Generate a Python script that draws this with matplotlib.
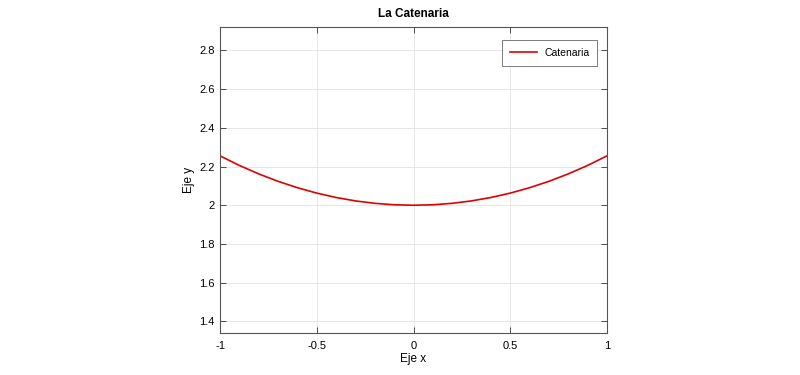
import numpy as np
import matplotlib
matplotlib.use("Agg")
import matplotlib.pyplot as plt

plt.rcParams['font.family'] = ['Liberation Sans', 'DejaVu Sans']

# puntos
x_vals = [-1.0, -0.9, -0.8, -0.7, -0.6, -0.5, -0.4, -0.3, -0.2, -0.1, 0.0,
          0.1, 0.2, 0.3, 0.4, 0.5, 0.6, 0.7, 0.8, 0.9, 1.0]
y_vals = [2.2553, 2.2058, 2.1621, 2.1237, 2.0907, 2.0628, 2.0401, 2.0225, 2.0100, 2.0025, 2.0,
          2.0025, 2.0100, 2.0225, 2.0401, 2.0628, 2.0907, 2.1237, 2.1621, 2.2058, 2.2553]
x_ticks = [-1, -0.5, 0, 0.5, 1]
x_labels = ['-1', '-0.5', '0', '0.5', '1']
y_ticks = [1.4, 1.6, 1.8, 2.0, 2.2, 2.4, 2.6, 2.8]
y_labels = ['1.4', '1.6', '1.8', '2', '2.2', '2.4', '2.6', '2.8']

fig = plt.figure(figsize=(8, 3.75), dpi=100)
ax = fig.add_axes([220/800, 1 - 333/375, 387/800, 306/375])

ax.plot(x_vals, y_vals, color='#e00000', lw=1.2, label='Catenaria')

ax.set_xlim(-1, 1)
ax.set_ylim(1.34, 2.921)
ax.set_xticks(x_ticks)
ax.set_xticklabels(x_labels)
ax.set_yticks(y_ticks)
ax.set_yticklabels(y_labels)
ax.tick_params(direction='in', top=True, right=True, labelsize=8, length=4,
               color='#333333', width=0.6)
ax.tick_params(axis='x', pad=6)
ax.tick_params(axis='y', pad=4)
ax.grid(True, color='#e3e3e3', lw=0.6)
for s in ax.spines.values():
    s.set_color('#555555')
    s.set_linewidth(0.8)

ax.set_title('La Catenaria', fontsize=8.5, fontweight='bold', pad=7)
ax.set_xlabel('Eje x', fontsize=8.5, labelpad=1)
ax.set_ylabel('Eje y', fontsize=8.5, labelpad=3)

leg = ax.legend(loc='upper right', fontsize=7.5, fancybox=False, framealpha=1,
                edgecolor='#666666', borderpad=0.75, handlelength=2.6,
                handletextpad=0.7, borderaxespad=0, bbox_to_anchor=(0.9742, 0.9575))
leg.get_frame().set_linewidth(0.6)

fig.savefig('out.png', dpi=100)
